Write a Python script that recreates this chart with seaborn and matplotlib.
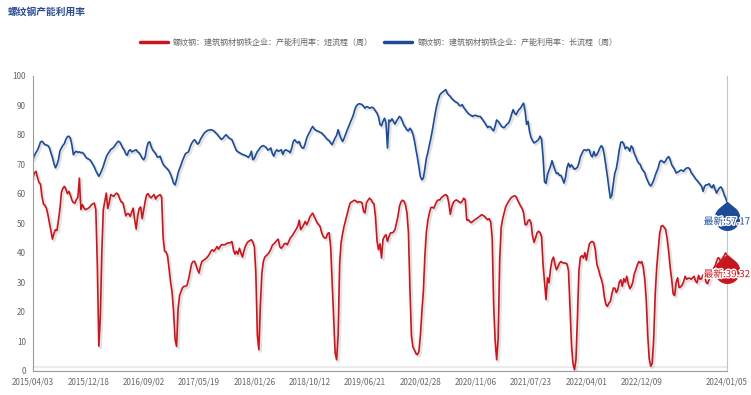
import numpy as np
import pandas as pd
import matplotlib
matplotlib.use('Agg')
import matplotlib.pyplot as plt
import matplotlib.patheffects as pe
from matplotlib.path import Path
from matplotlib.lines import Line2D
import seaborn as sns

TITLE = '螺纹钢产能利用率'
SERIES_SHORT = '螺纹钢：建筑钢材钢铁企业：产能利用率：短流程（周）'
SERIES_LONG = '螺纹钢：建筑钢材钢铁企业：产能利用率：长流程（周）'

TICK_LABELS = ['2015/04/03', '2015/12/18', '2016/09/02', '2017/05/19', '2018/01/26',
               '2018/10/12', '2019/06/21', '2020/02/28', '2020/11/06', '2021/07/23',
               '2022/04/01', '2022/12/09', '', '2024/01/05']
TICK_POS = [0, 37, 74, 111, 148, 185, 222, 259, 296, 333, 370, 407, 444, 464]

long_process = [
    71.7, 73.0, 74.0, 74.8, 76.0, 77.5, 77.8, 77.2, 76.6, 76.5,
    76.3, 75.5, 73.8, 72.3, 70.2, 68.8, 69.8, 71.5, 74.5, 75.5,
    76.4, 77.0, 78.5, 79.3, 79.5, 78.8, 76.5, 73.2, 74.0, 74.4,
    74.0, 74.2, 73.9, 74.0, 73.5, 72.6, 72.0, 71.8, 71.5, 70.8,
    69.9, 69.0, 67.8, 66.8, 65.9, 66.8, 68.0, 69.3, 71.0, 72.5,
    73.5, 74.2, 75.0, 75.3, 75.8, 76.5, 77.2, 77.8, 77.5, 76.6,
    75.5, 74.8, 73.5, 73.0, 74.5, 74.9, 74.2, 74.4, 74.7, 74.9,
    74.2, 73.8, 73.0, 72.0, 71.5, 72.5, 75.5, 77.3, 77.6, 76.0,
    74.8, 74.2, 73.6, 72.5, 72.4, 72.7, 71.2, 70.0, 69.3, 68.8,
    68.3, 67.6, 66.5, 65.2, 63.5, 63.0, 64.8, 67.0, 68.5, 69.8,
    71.3, 72.5, 73.6, 73.9, 74.2, 75.8, 77.0, 77.8, 78.3, 77.6,
    76.8, 77.2, 78.5, 79.3, 80.2, 80.8, 81.2, 81.5, 81.6, 81.7,
    81.5, 81.3, 80.7, 80.2, 79.6, 78.9, 78.4, 78.8, 79.4, 80.0,
    79.5, 78.9, 78.6, 78.3, 77.0, 75.8, 74.6, 74.2, 73.9, 73.6,
    73.3, 73.2, 72.9, 72.7, 72.3, 73.0, 74.4, 71.5, 72.0, 73.2,
    74.3, 74.9, 75.7, 76.1, 76.3, 76.0, 75.6, 74.8, 75.0, 75.5,
    73.6, 72.7, 74.2, 74.9, 74.4, 74.6, 74.9, 73.3, 74.5, 74.9,
    74.6, 74.4, 73.9, 75.5, 77.7, 78.3, 77.6, 77.2, 77.7, 76.2,
    75.5, 75.5, 77.0, 78.9, 80.0, 80.9, 82.0, 82.8, 82.0, 81.5,
    81.3, 81.1, 80.8, 80.6, 80.0, 79.5, 78.8, 78.3, 78.0, 77.2,
    76.6, 77.8, 78.9, 79.8, 81.7, 80.0, 78.6, 77.7, 78.8, 80.2,
    81.5, 82.8, 84.0, 85.2, 86.4, 88.3, 89.6, 90.2, 90.5, 90.4,
    90.2, 89.6, 89.0, 89.5, 89.4, 89.0, 89.2, 89.3, 88.8, 88.0,
    87.3, 86.0, 83.5, 83.0, 84.5, 85.6, 84.0, 75.5, 85.0, 84.5,
    85.4, 84.5, 83.6, 84.6, 85.4, 86.2, 85.7, 84.5, 83.2, 82.5,
    81.6, 81.3, 82.2, 81.5, 80.2, 78.0, 75.0, 72.3, 69.0, 65.8,
    64.7, 65.3, 68.5, 72.0, 74.0, 76.5, 78.8, 81.5, 84.5, 87.5,
    90.0, 92.0, 93.5, 94.1, 94.5, 94.9, 95.3, 94.0, 93.4, 93.0,
    92.2, 91.8, 91.3, 91.0, 90.7, 89.9, 89.8, 90.2, 89.2, 88.5,
    87.8, 87.2, 86.8, 86.5, 86.2, 86.5, 86.6, 86.3, 86.2, 86.2,
    85.5, 84.8, 84.1, 83.2, 82.4, 82.8, 82.6, 81.8, 81.3, 83.0,
    85.0, 84.5, 83.8, 83.0, 82.5, 82.4, 83.0, 83.6, 84.0, 85.2,
    87.0, 88.5, 87.3, 86.8, 87.8, 88.6, 89.0, 90.0, 90.7, 88.0,
    83.5, 84.5, 81.0, 79.0, 78.0, 77.2, 77.5, 77.9, 78.3, 79.5,
    78.5, 72.5, 64.0, 63.5, 66.5, 68.0, 69.3, 71.2, 69.5, 68.0,
    66.8, 67.0, 66.2, 66.2, 65.0, 63.6, 65.5, 68.8, 70.3, 69.0,
    69.8, 69.0, 68.3, 68.5, 69.0, 70.4, 72.6, 73.6, 74.7, 74.9,
    74.6, 75.0, 74.8, 73.0, 72.5, 74.3, 72.8, 73.2, 74.3, 75.5,
    76.3, 75.5, 73.0, 69.5, 66.0, 62.0, 58.5, 59.5, 63.5, 67.0,
    68.5, 71.5, 75.0, 77.4, 77.6, 76.8, 75.2, 75.8, 75.5, 74.4,
    76.2, 75.5, 73.6, 72.5, 71.2, 70.3, 69.9, 68.5, 67.8, 67.1,
    65.5, 64.3, 63.2, 62.6, 63.4, 64.6, 66.2, 67.5, 68.8, 70.8,
    71.3, 70.9, 70.5, 71.2, 72.1, 72.6, 71.5, 69.8, 69.0, 68.2,
    67.0, 67.3, 67.6, 68.0, 67.9, 67.6, 68.3, 68.7, 68.8, 68.5,
    67.2, 66.5, 65.8, 65.0, 64.5, 63.8, 63.2, 62.5, 60.8, 62.5,
    63.0, 63.0, 63.4, 62.5, 62.0, 63.0, 61.5, 60.2, 61.2, 62.0,
    62.3, 61.4, 59.8, 58.6, 57.17,
]

short_process = [
    65.5, 67.0, 67.6, 65.5, 63.8, 63.2, 59.0, 56.5, 56.0, 55.0,
    52.8, 50.0, 47.0, 44.6, 46.5, 47.8, 47.5, 51.0, 54.8, 60.5,
    61.8, 62.5, 61.5, 60.0, 60.8, 59.5, 57.8, 57.0, 56.8, 58.0,
    58.8, 65.3, 54.6, 56.3, 55.2, 54.6, 54.8, 55.1, 55.5, 56.2,
    56.6, 56.8, 54.6, 36.0, 8.3, 18.0, 40.0, 54.6, 57.5, 60.2,
    55.0, 57.0, 59.7, 59.4, 59.1, 59.8, 60.2, 59.7, 58.2, 57.2,
    57.0, 55.0, 52.5, 53.2, 53.2, 52.3, 53.8, 55.1, 51.0, 48.0,
    52.5, 55.0, 55.5, 51.5, 54.5, 57.4, 59.7, 60.0, 59.0, 58.6,
    59.2, 59.7, 58.2, 59.0, 59.4, 59.7, 58.8, 45.0, 40.5, 40.2,
    38.8, 34.5, 30.0, 26.5, 20.0, 10.5, 8.2, 21.0, 25.5, 26.9,
    28.2, 28.6, 28.6, 29.0, 31.0, 33.5, 36.2, 37.0, 37.1, 35.8,
    34.2, 33.1, 35.5, 37.1, 37.4, 37.8, 38.2, 38.8, 39.6, 40.6,
    41.0, 40.5, 41.2, 42.1, 41.2, 42.0, 42.7, 42.7, 42.7, 42.9,
    43.3, 43.3, 43.4, 43.8, 41.0, 39.5, 40.5, 39.5, 41.5, 40.0,
    38.5, 40.5, 42.2, 43.2, 43.8, 44.1, 44.4, 43.6, 42.0, 33.0,
    12.0, 7.1, 22.0, 33.0, 37.0, 38.5, 39.0, 39.5, 40.2, 41.2,
    42.5, 43.0, 43.5, 44.2, 44.6, 42.0, 41.5, 42.1, 43.0, 43.2,
    42.7, 43.8, 45.0, 45.6, 46.3, 47.2, 48.0, 49.0, 51.0, 47.8,
    48.6, 49.5, 50.6, 49.5, 50.5, 52.0, 52.8, 53.4, 52.3, 51.2,
    50.1, 49.5, 48.8, 46.8, 45.5, 45.0, 45.0, 46.5, 46.8, 42.0,
    30.0, 17.3, 6.0, 3.7, 12.0, 36.0, 43.5, 46.5, 49.0, 51.0,
    53.0, 55.0, 56.8, 57.2, 57.5, 57.8, 57.5, 57.0, 57.3, 57.2,
    56.9, 54.0, 53.5, 57.0, 57.8, 58.5, 58.0, 57.0, 56.5, 52.0,
    44.0, 41.0, 43.0, 38.2, 44.5, 45.5, 46.1, 43.8, 45.5, 46.7,
    46.7, 47.0, 47.8, 50.0, 52.3, 55.7, 57.2, 57.8, 57.5, 56.3,
    53.5, 47.0, 28.0, 12.0, 8.0, 7.0, 5.8, 5.4, 6.5, 12.0,
    20.0, 27.0, 39.0, 47.0, 51.0, 53.4, 55.3, 55.4, 55.1, 56.3,
    57.4, 57.9, 57.9, 58.6, 59.1, 59.5, 59.7, 59.2, 56.8, 53.0,
    55.5, 57.0, 57.6, 57.9, 57.6, 57.2, 56.9, 57.5, 58.5, 57.9,
    51.0, 51.2, 50.6, 50.2, 50.6, 51.0, 51.4, 51.7, 52.1, 52.5,
    52.9, 52.6, 52.3, 51.6, 51.2, 51.5, 50.5, 45.0, 22.0, 10.0,
    3.7, 11.0, 37.0, 48.5, 51.5, 53.5, 55.5, 56.5, 57.4, 58.2,
    58.8, 59.1, 59.3, 59.0, 57.8, 56.8, 55.8, 55.0, 53.5, 49.5,
    49.5, 50.8, 51.2, 50.0, 45.5, 43.5, 45.0, 46.7, 47.3, 46.8,
    45.5, 36.0, 30.0, 24.1, 31.5, 29.8, 34.5, 37.5, 38.5, 36.0,
    34.2, 35.2, 36.5, 37.0, 36.6, 36.5, 36.5, 36.2, 34.0, 22.0,
    9.0, 2.5, 0.3, 3.7, 18.0, 34.0, 38.5, 39.0, 38.2, 40.0,
    37.5, 40.5, 43.0, 43.6, 43.8, 43.3, 40.8, 36.0, 34.5, 32.5,
    31.0, 29.0, 25.0, 22.5, 21.8, 22.9, 23.5, 26.0, 28.0, 28.0,
    26.5, 27.5, 30.0, 30.8, 28.6, 31.2, 30.0, 32.0, 29.5, 27.8,
    28.5, 30.0, 32.8, 34.2, 35.8, 37.0, 36.5, 37.0, 35.0, 31.0,
    24.0, 12.0, 4.0, 1.5, 2.5, 11.0, 26.0, 35.0, 41.0, 46.5,
    49.0, 49.2, 48.6, 47.8, 44.6, 40.5, 35.0, 31.0, 26.0, 25.5,
    30.0, 31.5, 28.2, 28.4, 29.0, 30.2, 32.0, 31.0, 31.3, 31.4,
    31.0, 31.5, 32.0, 30.3, 29.8, 32.3, 31.0, 31.2, 32.5, 32.5,
    30.0, 29.5, 30.8, 32.2, 34.0, 34.7, 35.5, 37.0, 38.3, 38.0,
    36.5, 38.2, 38.8, 39.9, 39.32,
]

sns.set_theme(style='white')
plt.rcParams['font.family'] = ['Noto Sans CJK SC', 'DejaVu Sans']
plt.rcParams['axes.unicode_minus'] = False

RED = '#c8161e'
BLUE = '#1d4b98'
GRAY_TXT = '#666666'
GRAY_AX = '#9a9a9a'

n = len(short_process)
df = pd.DataFrame({
    'idx': list(range(n)) * 2,
    'value': short_process + long_process,
    'series': [SERIES_SHORT] * n + [SERIES_LONG] * n,
})

W, H = 751, 395
fig = plt.figure(figsize=(W / 100, H / 100), dpi=100)
ax = fig.add_axes([33 / W, 1 - 370.7 / H, (727 - 33) / W, (370.7 - 75.7) / H])

sns.lineplot(data=df, x='idx', y='value', hue='series',
             hue_order=[SERIES_SHORT, SERIES_LONG], palette=[RED, BLUE],
             linewidth=1.2, estimator=None, legend=False, ax=ax)

shadow = [pe.SimpleLineShadow(offset=(1.2, -1.2), shadow_color='#b0b0b0',
                              alpha=0.35, linewidth=2.0), pe.Normal()]
for ln in ax.lines:
    ln.set_path_effects(shadow)

ax.axhline(1.2, color='#ebebeb', lw=1.4, zorder=0)

ax.set_xlim(0, n - 1)
ax.set_ylim(0, 100)
ax.set_yticks(range(0, 101, 10))
ax.set_xticks(TICK_POS)
ax.set_xticklabels(TICK_LABELS)
ax.set_xlabel('')
ax.set_ylabel('')
ax.grid(False)
ax.tick_params(axis='both', which='both', colors=GRAY_AX, labelcolor=GRAY_TXT,
               labelsize=5.8, length=3, width=0.8, direction='out', pad=2)
ax.spines['top'].set_visible(False)
for s in ('left', 'bottom'):
    ax.spines[s].set_color(GRAY_AX)
    ax.spines[s].set_linewidth(0.8)
ax.spines['right'].set_color('#c4c4c4')
ax.spines['right'].set_linewidth(0.8)


def pin_path():
    r, c = 1.0, 1.3
    a = np.arccos(r / c)
    th = np.linspace(np.pi / 2 + a, np.pi / 2 + 2 * np.pi - a, 60)
    xs = r * np.cos(th)
    ys = -c + r * np.sin(th)
    verts = [(0.0, 0.0)] + list(zip(xs, ys)) + [(0.0, 0.0)]
    codes = [Path.MOVETO] + [Path.LINETO] * (len(verts) - 2) + [Path.CLOSEPOLY]
    return Path(verts, codes)


PIN = pin_path()
for vals, col in ((long_process, BLUE), (short_process, RED)):
    ax.plot([n - 1], [vals[-1]], marker=PIN, ms=40, color=col, mec=col,
            linestyle='none', clip_on=False, zorder=5)
    ax.annotate(f'最新:{vals[-1]:.2f}', xy=(n - 1, vals[-1]), xytext=(0, -14),
                textcoords='offset points', ha='center', va='center',
                fontsize=7, color=col, annotation_clip=False, zorder=6,
                path_effects=[pe.withStroke(linewidth=2, foreground='white')])

handles = [Line2D([], [], color=RED, lw=2.5), Line2D([], [], color=BLUE, lw=2.5)]
fig.legend(handles=handles, labels=[SERIES_SHORT, SERIES_LONG], loc='center',
           bbox_to_anchor=(0.504, 1 - 42 / H), ncol=2, frameon=False,
           fontsize=5.8, handlelength=3.5, handletextpad=0.6,
           columnspacing=1.4, labelcolor=GRAY_TXT, borderpad=0)

fig.text(8 / W, 1 - 12 / H, TITLE, ha='left', va='center', fontsize=7,
         fontweight='bold', color='#2a4d8f')

fig.savefig('out.png', dpi=100, facecolor='white')
